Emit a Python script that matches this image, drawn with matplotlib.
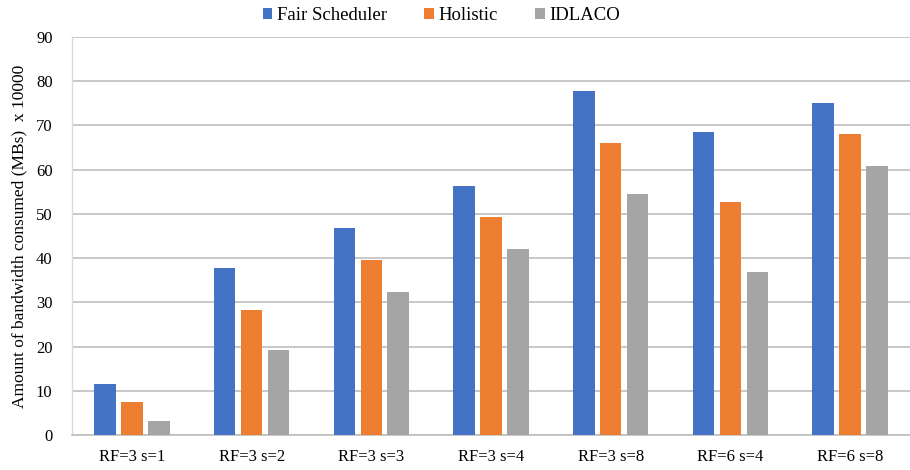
import matplotlib.pyplot as plt
import numpy as np

plt.rcParams['font.family'] = ['Liberation Serif', 'DejaVu Serif']

categories = ["RF=3 s=1", "RF=3 s=2", "RF=3 s=3", "RF=3 s=4",
              "RF=3 s=8", "RF=6 s=4", "RF=6 s=8"]
fair_scheduler = [11.5, 37.8, 46.7, 56.2, 77.8, 68.5, 75.0]
holistic = [7.5, 28.3, 39.5, 49.2, 66.0, 52.6, 68.0]
idlaco = [3.2, 19.2, 32.4, 42.1, 54.5, 36.9, 60.9]
series_names = ["Fair Scheduler", "Holistic", "IDLACO"]
colors = ["#4472C4", "#ED7D31", "#A5A5A5"]

fig = plt.figure(figsize=(9.1, 4.7), dpi=100)
ax = fig.add_axes([72 / 910, 35 / 470, 1 - 72 / 910, 398 / 470])

x = np.arange(len(categories))
width = 0.18
offsets = [-0.225, 0, 0.225]
for values, name, color, off in zip([fair_scheduler, holistic, idlaco],
                                    series_names, colors, offsets):
    ax.bar(x + off, values, width, color=color, label=name, zorder=3)

ax.set_xlim(-0.5, len(categories) - 0.5)
ax.set_ylim(0, 90)
ax.set_yticks(range(0, 91, 10))
ax.set_xticks(x)
ax.set_xticklabels(categories, fontsize=12)
ax.tick_params(axis='both', length=0, labelsize=12, colors='black')
ax.tick_params(axis='x', pad=10)
ax.tick_params(axis='y', pad=14)
ax.yaxis.grid(True, color='#BFBFBF', linewidth=1.2, zorder=0)
for side in ['top', 'right']:
    ax.spines[side].set_visible(False)
ax.spines['bottom'].set_color('#BFBFBF')
ax.spines['bottom'].set_linewidth(1.2)
ax.spines['left'].set_color('#D9D9D9')
ax.spines['left'].set_linewidth(1.0)
ax.set_ylabel("Amount of bandwidth consumed (MBs)  x 10000", fontsize=12.5, labelpad=6)

fig.legend(loc='upper center', bbox_to_anchor=(0.485, 1.02), ncol=3, frameon=False,
           prop={'family': 'Liberation Serif', 'size': 13.5},
           handlelength=0.5, handleheight=0.5, handletextpad=0.25,
           columnspacing=2.0)

fig.savefig("out.png", dpi=100)
